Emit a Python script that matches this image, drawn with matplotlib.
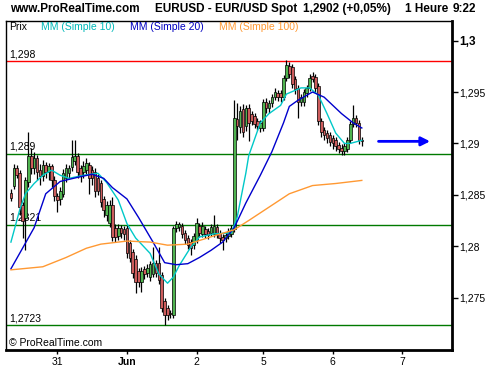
import matplotlib
matplotlib.use('Agg')
import matplotlib.pyplot as plt

plt.rcParams['font.family'] = ['Liberation Sans', 'DejaVu Sans']

# hourly EUR/USD candles, May 30 -> June 6
opens = [
    1.2852, 1.2859, 1.2876, 1.2871, 1.2840, 1.2827, 1.2862, 1.2888, 1.2876, 1.2886,
    1.2874, 1.2868, 1.2879, 1.2872, 1.2878, 1.2864, 1.2849, 1.2846, 1.2851, 1.2866,
    1.2871, 1.2877, 1.2883, 1.2888, 1.2876, 1.2872, 1.2874, 1.2879, 1.2874, 1.2872,
    1.2866, 1.2861, 1.2846, 1.2830, 1.2823, 1.2840, 1.2818, 1.2810, 1.2818, 1.2817,
    1.2818, 1.2803, 1.2794, 1.2788, 1.2776, 1.2765, 1.2778, 1.2774, 1.2770, 1.2773,
    1.2784, 1.2784, 1.2772, 1.2747, 1.2740, 1.2735, 1.2733, 1.2818, 1.2819, 1.2820,
    1.2813, 1.2808, 1.2804, 1.2801, 1.2806, 1.2820, 1.2812, 1.2817, 1.2815, 1.2813,
    1.2812, 1.2819, 1.2813, 1.2809, 1.2808, 1.2810, 1.2812, 1.2817, 1.2924, 1.2916,
    1.2933, 1.2917, 1.2934, 1.2929, 1.2927, 1.2922, 1.2915, 1.2915, 1.2940, 1.2934,
    1.2939, 1.2945, 1.2949, 1.2949, 1.2945, 1.2964, 1.2975, 1.2974, 1.2963, 1.2954,
    1.2940, 1.2940, 1.2949, 1.2954, 1.2966, 1.2965, 1.2956, 1.2922, 1.2913, 1.2910,
    1.2908, 1.2905, 1.2903, 1.2898, 1.2896, 1.2893, 1.2895, 1.2903, 1.2919, 1.2925,
    1.2920, 1.2903]
closes = [
    1.2847, 1.2876, 1.2869, 1.2838, 1.2825, 1.2864, 1.2888, 1.2876, 1.2886, 1.2872,
    1.2868, 1.2879, 1.2872, 1.2878, 1.2864, 1.2849, 1.2845, 1.2854, 1.2871, 1.2876,
    1.2876, 1.2887, 1.2888, 1.2872, 1.2869, 1.2878, 1.2881, 1.2866, 1.2866, 1.2854,
    1.2854, 1.2843, 1.2835, 1.2840, 1.2840, 1.2809, 1.2809, 1.2818, 1.2813, 1.2812,
    1.2793, 1.2789, 1.2774, 1.2765, 1.2765, 1.2776, 1.2773, 1.2779, 1.2783, 1.2784,
    1.2774, 1.2767, 1.2740, 1.2733, 1.2733, 1.2734, 1.2818, 1.2822, 1.2822, 1.2812,
    1.2806, 1.2801, 1.2798, 1.2810, 1.2823, 1.2813, 1.2820, 1.2812, 1.2811, 1.2819,
    1.2820, 1.2812, 1.2808, 1.2806, 1.2811, 1.2815, 1.2818, 1.2925, 1.2917, 1.2932,
    1.2911, 1.2934, 1.2920, 1.2922, 1.2919, 1.2917, 1.2920, 1.2940, 1.2934, 1.2939,
    1.2945, 1.2950, 1.2945, 1.2945, 1.2964, 1.2976, 1.2968, 1.2958, 1.2953, 1.2940,
    1.2945, 1.2950, 1.2954, 1.2964, 1.2963, 1.2954, 1.2922, 1.2911, 1.2908, 1.2905,
    1.2901, 1.2900, 1.2897, 1.2895, 1.2893, 1.2897, 1.2903, 1.2919, 1.2925, 1.2920,
    1.2903, 1.2902]
highs = [
    1.2856, 1.2880, 1.2879, 1.2874, 1.2843, 1.2867, 1.2911, 1.2896, 1.2892, 1.2889,
    1.2880, 1.2884, 1.2882, 1.2881, 1.2880, 1.2868, 1.2852, 1.2858, 1.2875, 1.2880,
    1.2879, 1.2903, 1.2903, 1.2891, 1.2879, 1.2883, 1.2886, 1.2882, 1.2878, 1.2876,
    1.2870, 1.2864, 1.2849, 1.2844, 1.2845, 1.2848, 1.2822, 1.2822, 1.2821, 1.2820,
    1.2821, 1.2806, 1.2797, 1.2791, 1.2779, 1.2780, 1.2781, 1.2783, 1.2786, 1.2799,
    1.2787, 1.2799, 1.2775, 1.2750, 1.2743, 1.2738, 1.2820, 1.2825, 1.2824, 1.2823,
    1.2816, 1.2811, 1.2807, 1.2813, 1.2827, 1.2823, 1.2824, 1.2820, 1.2818, 1.2822,
    1.2830, 1.2822, 1.2816, 1.2812, 1.2814, 1.2818, 1.2821, 1.2942, 1.2939, 1.2936,
    1.2938, 1.2937, 1.2938, 1.2932, 1.2930, 1.2925, 1.2923, 1.2943, 1.2944, 1.2942,
    1.2948, 1.2954, 1.2952, 1.2952, 1.2967, 1.2981, 1.2979, 1.2977, 1.2966, 1.2957,
    1.2948, 1.2953, 1.2957, 1.2968, 1.2969, 1.2968, 1.2959, 1.2925, 1.2916, 1.2913,
    1.2911, 1.2908, 1.2906, 1.2901, 1.2899, 1.2900, 1.2906, 1.2922, 1.2937, 1.2928,
    1.2923, 1.2906]
lows = [
    1.2844, 1.2856, 1.2866, 1.2830, 1.2808, 1.2796, 1.2858, 1.2870, 1.2870, 1.2864,
    1.2860, 1.2863, 1.2866, 1.2864, 1.2858, 1.2844, 1.2833, 1.2840, 1.2848, 1.2862,
    1.2866, 1.2873, 1.2879, 1.2866, 1.2862, 1.2866, 1.2869, 1.2851, 1.2860, 1.2848,
    1.2850, 1.2838, 1.2828, 1.2825, 1.2819, 1.2805, 1.2804, 1.2806, 1.2808, 1.2806,
    1.2789, 1.2785, 1.2769, 1.2754, 1.2760, 1.2755, 1.2768, 1.2770, 1.2766, 1.2770,
    1.2770, 1.2763, 1.2736, 1.2723, 1.2728, 1.2730, 1.2730, 1.2814, 1.2815, 1.2808,
    1.2802, 1.2797, 1.2791, 1.2797, 1.2803, 1.2809, 1.2809, 1.2808, 1.2807, 1.2810,
    1.2809, 1.2808, 1.2803, 1.2796, 1.2804, 1.2807, 1.2809, 1.2814, 1.2903, 1.2910,
    1.2906, 1.2912, 1.2902, 1.2918, 1.2915, 1.2913, 1.2911, 1.2912, 1.2930, 1.2930,
    1.2935, 1.2942, 1.2941, 1.2940, 1.2942, 1.2961, 1.2964, 1.2954, 1.2948, 1.2925,
    1.2936, 1.2936, 1.2945, 1.2951, 1.2960, 1.2950, 1.2918, 1.2906, 1.2903, 1.2900,
    1.2897, 1.2895, 1.2893, 1.2891, 1.2889, 1.2889, 1.2892, 1.2900, 1.2916, 1.2916,
    1.2899, 1.2897]

# moving averages (candle index, value)
ma10_idx = [0, 3, 5, 8, 11, 14, 17, 20, 25, 30, 33, 37, 40, 43, 48, 51, 54, 56, 58,
            62, 65, 70, 76, 78, 81, 82, 86, 89, 93, 95, 100, 103, 106, 109, 112, 115, 117, 121]
ma10 = [1.2804, 1.2835, 1.2851, 1.2861, 1.2869, 1.2874, 1.2869, 1.2866, 1.2869, 1.2871,
        1.2862, 1.2845, 1.2822, 1.2808, 1.2793, 1.2773, 1.2764, 1.2770, 1.2781, 1.2799,
        1.2809, 1.2812, 1.2813, 1.2828, 1.2871, 1.2888, 1.2920, 1.2929, 1.2937, 1.2948,
        1.2954, 1.2954, 1.2947, 1.2929, 1.2910, 1.2900, 1.2900, 1.2903]
ma20_idx = [0, 8, 12, 17, 23, 28, 32, 35, 40, 44, 49, 53, 57, 61, 65, 69, 73, 77, 81,
            86, 90, 94, 96, 99, 104, 108, 111, 114, 118, 121]
ma20 = [1.2778, 1.2818, 1.2851, 1.2863, 1.2867, 1.2870, 1.2866, 1.2857, 1.2846, 1.2828,
        1.2804, 1.2784, 1.2782, 1.2783, 1.2789, 1.2796, 1.2804, 1.2818, 1.2842, 1.2869,
        1.2892, 1.2920, 1.2936, 1.2942, 1.2950, 1.2945, 1.2937, 1.2929, 1.2920, 1.2915]
ma100_idx = [0, 11, 19, 26, 31, 40, 48, 54, 61, 70, 77, 82, 89, 96, 104, 112, 121]
ma100 = [1.2777, 1.2780, 1.2789, 1.2798, 1.2802, 1.2805, 1.2804, 1.2801, 1.2802, 1.2810,
         1.2816, 1.2825, 1.2838, 1.2851, 1.2859, 1.2861, 1.2864]

levels = [1.298, 1.289, 1.2821, 1.2723]
level_labels = ['1,298', '1,289', '1,2821', '1,2723']
level_colors = ['#ff0000', '#007a00', '#007a00', '#007a00']

day_idx = [16, 40, 64, 87, 111, 135]
day_labels = ['31', 'Jun', '2', '5', '6', '7']
price_ticks = [1.275, 1.28, 1.285, 1.29, 1.295, 1.3]
price_labels = ['1,275', '1,28', '1,285', '1,29', '1,295', '1,3']

GREEN = '#4fb34f'
RED = '#cc5c5c'

fig = plt.figure(figsize=(5, 3.7), dpi=100)
ax = fig.add_axes([0.012, 0.054, 0.892, 0.889])

# horizontal levels with their labels
for lv, lab, col in zip(levels, level_labels, level_colors):
    ax.axhline(lv, color=col, lw=1, zorder=1)
    ax.text(0.007, lv + 0.0002, lab, transform=ax.get_yaxis_transform(),
            fontsize=7.5, va='bottom', ha='left', zorder=1)

# candles
x = list(range(len(closes)))
ax.vlines(x, lows, highs, color='black', lw=0.9, zorder=2)
body_bottom = [min(o, c) for o, c in zip(opens, closes)]
body_height = [max(abs(c - o), 0.00003) for o, c in zip(opens, closes)]
body_color = [GREEN if c >= o else RED for o, c in zip(opens, closes)]
ax.bar(x, body_height, bottom=body_bottom, width=0.9, color=body_color,
       edgecolor='black', linewidth=0.5, zorder=3)

# moving averages
ax.plot(ma10_idx, ma10, color='#00c8c8', lw=1, zorder=4)
ax.plot(ma20_idx, ma20, color='#0000cc', lw=1, zorder=4)
ax.plot(ma100_idx, ma100, color='#ff9933', lw=1, zorder=4)

# arrow pointing at the last price
n = len(closes) - 1
ax.annotate('', xy=(n + 24.5, closes[-1]), xytext=(n + 4.8, closes[-1]),
            arrowprops=dict(arrowstyle='-|>', color='#0000ff', lw=2, mutation_scale=13))

ax.set_xlim(-1.7, 152.1)
ax.set_ylim(1.2699, 1.3019)

ax.yaxis.tick_right()
ax.set_yticks(price_ticks)
ax.set_yticklabels(price_labels, fontsize=7.5)
ax.get_yticklabels()[-1].set_fontweight('bold')
ax.get_yticklabels()[-1].set_fontsize(8.5)
ax.set_xticks(day_idx)
ax.set_xticklabels(day_labels, fontsize=7.5)
ax.get_xticklabels()[1].set_fontweight('bold')
ax.tick_params(axis='y', length=4, width=1, pad=1, direction='out')
ax.tick_params(axis='x', length=3, width=1, pad=2, direction='out')

for side in ['top', 'left']:
    ax.spines[side].set_linewidth(1)
for side in ['right', 'bottom']:
    ax.spines[side].set_linewidth(2)

# legend line inside the plot
legend_items = [('Prix', 'black', 0.018), ('MM (Simple 10)', '#00b8b8', 0.082),
                ('MM (Simple 20)', '#0000c0', 0.26), ('MM (Simple 100)', '#ff9933', 0.438)]
for txt, col, xf in legend_items:
    fig.text(xf, 0.927, txt, color=col, fontsize=7.5, va='center', ha='left')

ax.text(0.007, 0.022, '\u00a9 ProRealTime.com', transform=ax.transAxes,
        fontsize=7.5, va='center', ha='left')

# header
header = [('www.ProRealTime.com', 0.02), ('EURUSD - EUR/USD Spot', 0.31),
          ('1,2902 (+0,05%)', 0.606), ('1 Heure', 0.81), ('9:22', 0.906)]
for txt, xf in header:
    fig.text(xf, 0.977, txt, fontsize=8.5, fontweight='bold', va='center', ha='left')

fig.savefig('out.png', dpi=100)
